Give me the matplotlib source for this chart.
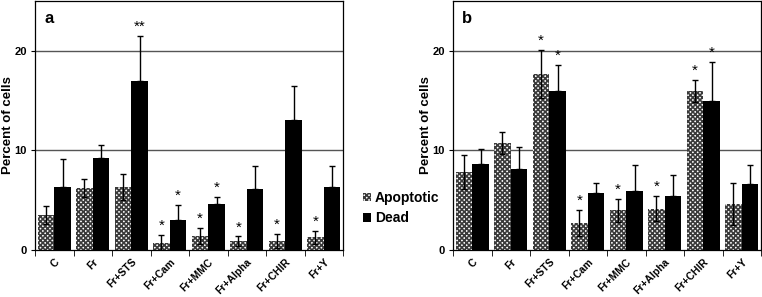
import numpy as np
import matplotlib.pyplot as plt
import matplotlib.transforms as mtransforms
from matplotlib.patches import Patch

groups = ['C', 'Fr', 'Fr+STS', 'Fr+Cam', 'Fr+MMC', 'Fr+Alpha', 'Fr+CHIR', 'Fr+Y']

# panel a
apo_a = [3.5, 6.2, 6.3, 0.75, 1.4, 0.87, 0.9, 1.27]
apo_a_err = [0.9, 0.9, 1.3, 0.75, 0.8, 0.5, 0.7, 0.65]
dead_a = [6.3, 9.2, 17.0, 3.0, 4.6, 6.1, 13.1, 6.35]
dead_a_err = [2.8, 1.3, 4.5, 1.5, 0.75, 2.3, 3.4, 2.1]
star_a_apo = ['', '', '', '*', '*', '*', '*', '*']
star_a_dead = ['', '', '**', '*', '*', '', '', '']

# panel b
apo_b = [7.8, 10.7, 17.7, 2.7, 4.0, 4.15, 16.0, 4.6]
apo_b_err = [1.7, 1.1, 2.4, 1.3, 1.15, 1.25, 1.1, 2.1]
dead_b = [8.6, 8.15, 16.0, 5.7, 5.9, 5.4, 15.0, 6.6]
dead_b_err = [1.5, 2.15, 2.6, 1.05, 2.6, 2.15, 3.9, 1.9]
star_b_apo = ['', '', '*', '*', '*', '*', '*', '']
star_b_dead = ['', '', '*', '', '', '', '*', '']

plt.rcParams['font.family'] = 'Liberation Sans'
plt.rcParams['font.weight'] = 'bold'
plt.rcParams['hatch.linewidth'] = 1.2

HATCH = 'xxxxxxx'
HCOL = '#3a3a3a'

fig = plt.figure(figsize=(7.62, 2.97), dpi=100)
W, H = 762, 297

def panel(rect, apo, apo_err, dead, dead_err, s_apo, s_dead, letter):
    ax = fig.add_axes(rect)
    x = np.arange(len(groups))
    w = 0.435
    ax.axhline(10, color='#555555', lw=1, zorder=0)
    ax.axhline(20, color='#555555', lw=1, zorder=0)
    ax.bar(x - w / 2, apo, w, color='white', edgecolor=HCOL, hatch=HATCH,
           linewidth=0, zorder=2)
    ax.bar(x + w / 2, dead, w, color='black', linewidth=0, zorder=2)
    ax.errorbar(x - w / 2, apo, yerr=apo_err, fmt='none', ecolor='black',
                elinewidth=1, capsize=2, capthick=1, zorder=3)
    ax.errorbar(x + w / 2, dead, yerr=[np.zeros(len(dead)), dead_err], fmt='none',
                ecolor='black', elinewidth=1, capsize=2, capthick=1, zorder=3)
    for i in range(len(groups)):
        if s_apo[i]:
            ax.text(x[i] - w / 2, apo[i] + apo_err[i] + 0.2, s_apo[i], ha='center',
                    va='bottom', fontsize=11, fontweight='normal')
        if s_dead[i]:
            ax.text(x[i] + w / 2, dead[i] + dead_err[i] + 0.2, s_dead[i], ha='center',
                    va='bottom', fontsize=11, fontweight='normal')
    ax.set_xlim(-0.5, len(groups) - 0.5)
    ax.set_ylim(0, 25)
    ax.set_yticks([0, 10, 20])
    ax.set_xticks(x)
    ax.set_xticklabels(groups, rotation=45, ha='right', rotation_mode='anchor',
                       fontsize=7.5, fontweight='bold')
    shift = mtransforms.ScaledTranslation(7 / 100, 0, fig.dpi_scale_trans)
    for t in ax.get_xticklabels():
        t.set_transform(t.get_transform() + shift)
    ax.tick_params(axis='x', length=0, pad=5)
    ax.set_xticks(np.arange(len(groups) + 1) - 0.5, minor=True)
    ax.tick_params(axis='x', which='minor', length=4, direction='out')
    ax.tick_params(axis='y', labelsize=8, length=3, pad=3, direction='out')
    for t in ax.get_yticklabels():
        t.set_fontweight('bold')
    ax.set_ylabel('Percent of cells', fontsize=9.5, fontweight='bold', va='center')
    ax.yaxis.set_label_coords(-27 / 308, 0.5)
    for s in ax.spines.values():
        s.set_linewidth(0.9)
    ax.text(0.03, 0.96, letter, transform=ax.transAxes, ha='left', va='top',
            fontsize=12, fontweight='bold')
    return ax

panel([35 / W, 47 / H, 308 / W, 249 / H], apo_a, apo_a_err, dead_a, dead_a_err,
      star_a_apo, star_a_dead, 'a')
panel([453 / W, 47 / H, 308 / W, 249 / H], apo_b, apo_b_err, dead_b, dead_b_err,
      star_b_apo, star_b_dead, 'b')

handles = [Patch(facecolor='white', edgecolor=HCOL, hatch=HATCH, linewidth=0),
           Patch(facecolor='black', linewidth=0)]
fig.legend(handles, ['Apoptotic', 'Dead'], loc='center left',
           bbox_to_anchor=(350 / W, 1 - 208 / H), frameon=False,
           handlelength=0.6, handleheight=0.6, handletextpad=0.3,
           labelspacing=0.45, prop={'weight': 'bold', 'size': 10})

fig.savefig('out.png', dpi=100)
